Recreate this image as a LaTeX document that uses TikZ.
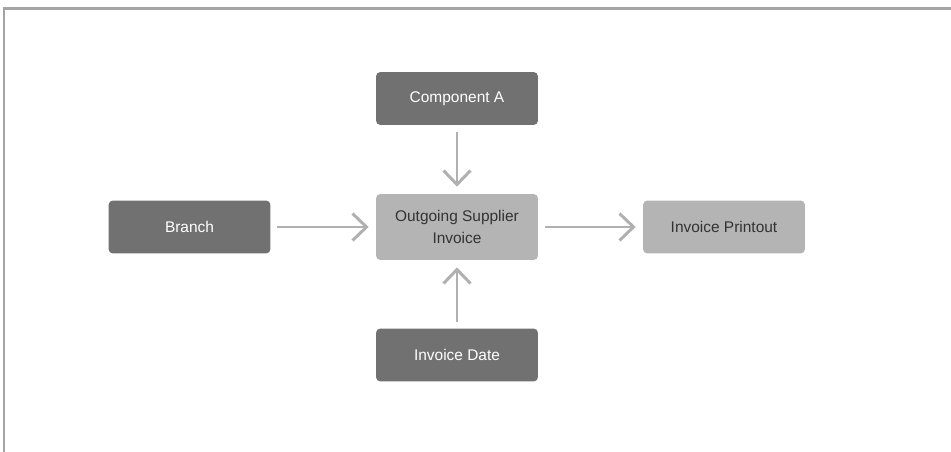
\documentclass[tikz,border=0pt]{standalone}
\usepackage{fontspec}
\setmainfont{Liberation Sans}
\usetikzlibrary{arrows.meta}

\definecolor{darkbox}{HTML}{717171}
\definecolor{lightbox}{HTML}{B4B4B4}
\definecolor{flowgray}{HTML}{B0B0B0}
\definecolor{framegray}{HTML}{A4A4A4}
\definecolor{textdark}{HTML}{333333}

\tikzset{
    darknode/.style={fill=darkbox, rounded corners=2.5pt, minimum width=3.24cm, minimum height=1.06cm, text=white, font=\fontsize{8.8}{12.5}\selectfont, align=center},
    lightnode/.style={darknode, fill=lightbox, text=textdark},
    flow/.style={draw=flowgray, line width=1.7pt, -{Straight Barb[length=2.8mm, width=5.4mm]}, shorten <=0.13cm, shorten >=0.14cm}
}

\begin{document}
\begin{tikzpicture}[x=0.02cm, y=-0.02cm]
    % canvas and the cut frame (top and left only)
    \useasboundingbox (0,0) rectangle (951,452);
    \draw[framegray, line width=1.4pt] (4,452) -- (4,8.5) -- (951,8.5);

    % boxes
    \node[darknode] (compA) at (457,98.5) {Component A};
    \node[darknode] (branch) at (189.5,227) {Branch};
    \node[lightnode, minimum height=1.32cm] (invoice) at (457,227) {Outgoing Supplier\\Invoice};
    \node[lightnode] (printout) at (724,227) {Invoice Printout};
    \node[darknode] (date) at (457,355) {Invoice Date};

    % connectors
    \draw[flow] (compA) -- (invoice);
    \draw[flow] (branch) -- (invoice);
    \draw[flow] (invoice) -- (printout);
    \draw[flow] (date) -- (invoice);
\end{tikzpicture}
\end{document}
